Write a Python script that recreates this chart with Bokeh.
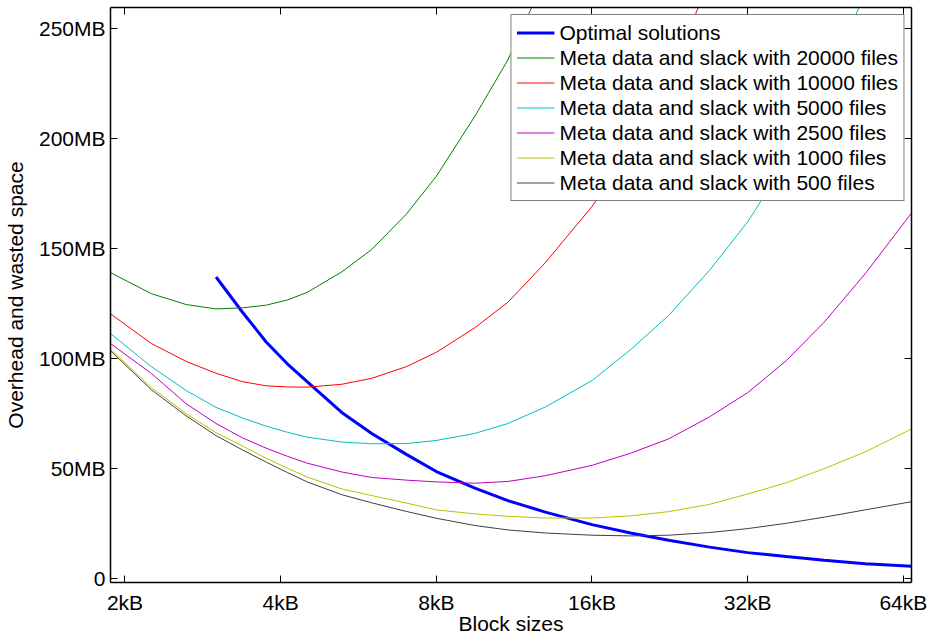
from bokeh.plotting import figure
from bokeh.models import Range1d, FixedTicker, LogAxis, LinearAxis
from bokeh.embed import file_html
from bokeh.resources import INLINE

nan = float("nan")

# Block sizes in kB
block_kb = [1.875, 2.25, 2.625, 3, 3.375, 3.75, 4.125, 4.5, 5.25, 6, 7, 8, 9.5, 11, 13,
            16, 19, 22.5, 27, 32, 38, 45, 54, 66.375]

# Overhead and wasted space in MB
optimal_mb = [nan, nan, nan, 137, 121, 107.5, 97.5, 89.5, 75.5, 66, 56.5, 48.7, 41.2, 35.5, 30.3,
              24.6, 20.8, 17.5, 14.4, 11.9, 10.1, 8.4, 6.9, 5.7]
files_20000 = [139, 129.4, 124.5, 122.5, 123, 124.2, 126.6, 130, 139.3, 149.5, 165.5, 182.7, 210, 235.5, 273,
               nan, nan, nan, nan, nan, nan, nan, nan, nan]
files_10000 = [120.3, 106.8, 98.7, 93.3, 89.5, 87.6, 87.1, 87, 88.3, 91, 96.3, 102.8, 114, 125.5, 143.5,
               169, 194, 226, 272, nan, nan, nan, nan, nan]
files_5000 = [111.3, 96.3, 85.5, 77.8, 73, 69.3, 66.5, 64.3, 62.1, 61.3, 61.4, 62.8, 66, 70.5, 78,
              90, 104, 119.5, 140, 162, 189.5, 222, 266, nan]
files_2500 = [106.8, 93.2, 79.5, 70.5, 64, 59.3, 55.6, 52.5, 48.5, 46, 44.8, 44, 43.4, 44.2, 46.8,
              51.5, 57, 63.5, 73.5, 84.5, 99, 116.5, 138.5, 166]
files_1000 = [104.2, 86.8, 75, 66.3, 60.3, 54.7, 50.2, 46.2, 40.8, 37.8, 34.4, 31.3, 29.5, 28.4, 27.6,
              27.6, 28.6, 30.5, 33.8, 38.5, 43.6, 50, 57.6, 68]
files_500 = [103.5, 85.8, 74, 65, 58.5, 53, 48.2, 44, 38.2, 34.5, 30.6, 27.5, 24.2, 22.2, 20.8,
             19.8, 19.5, 19.8, 21, 22.8, 25.2, 28, 31.3, 35]

x_ticks = [2, 4, 8, 16, 32, 64]
x_tick_labels = ["2kB", "4kB", "8kB", "16kB", "32kB", "64kB"]
y_ticks = [0, 50, 100, 150, 200, 250]
y_tick_labels = ["0", "50MB", "100MB", "150MB", "200MB", "250MB"]

series = [
    ("Optimal solutions", optimal_mb, "#0000ff", 3),
    ("Meta data and slack with 20000 files", files_20000, "#008000", 1),
    ("Meta data and slack with 10000 files", files_10000, "#ff0000", 1),
    ("Meta data and slack with 5000 files", files_5000, "#00bfbf", 1),
    ("Meta data and slack with 2500 files", files_2500, "#bf00bf", 1),
    ("Meta data and slack with 1000 files", files_1000, "#bfbf00", 1),
    ("Meta data and slack with 500 files", files_500, "#404040", 1),
]

FONT = "Liberation Sans"
FS = "21px"
Y0, Y1 = -1.66, 259.31

p = figure(width=927, height=637, x_axis_type="log",
           x_range=Range1d(block_kb[0], block_kb[-1]), y_range=Range1d(Y0, Y1),
           output_backend="svg", toolbar_location=None,
           min_border_left=110, min_border_right=16, min_border_top=7, min_border_bottom=50)
p.xgrid.visible = False
p.ygrid.visible = False
p.outline_line_color = None
p.background_fill_color = "white"
p.border_fill_color = "white"

for name, ys, color, lw in series:
    p.line(block_kb, ys, line_color=color, line_width=lw, legend_label=name)


def style_axis(ax, ticks, labels=None):
    ax.ticker = FixedTicker(ticks=ticks, minor_ticks=[])
    ax.major_tick_in = 7
    ax.major_tick_out = 0
    ax.minor_tick_line_color = None
    ax.axis_line_color = "black"
    ax.axis_line_width = 1.5
    ax.major_tick_line_color = "black"
    ax.major_tick_line_width = 1
    if labels is not None:
        ax.major_label_overrides = {t: l for t, l in zip(ticks, labels)}
        ax.major_label_text_font = FONT
        ax.major_label_text_font_size = FS
        ax.major_label_text_color = "black"
    else:
        # box side: ticks only, no labels drawn
        ax.major_label_text_color = None
        ax.major_label_text_font_size = "1px"
        ax.major_label_standoff = 0


xa = p.xaxis[0]
style_axis(xa, x_ticks, x_tick_labels)
xa.major_label_standoff = 8
xa.axis_label = "Block sizes"
xa.axis_label_text_font = FONT
xa.axis_label_text_font_size = FS
xa.axis_label_text_font_style = "normal"
xa.axis_label_text_color = "black"
xa.axis_label_standoff = -5

ya = p.yaxis[0]
style_axis(ya, y_ticks, y_tick_labels)
ya.major_label_standoff = 5
ya.axis_label = "Overhead and wasted space"
ya.axis_label_text_font = FONT
ya.axis_label_text_font_size = FS
ya.axis_label_text_font_style = "normal"
ya.axis_label_text_color = "black"
ya.axis_label_standoff = 9

top = LogAxis()
style_axis(top, x_ticks)
p.add_layout(top, "above")
right = LinearAxis()
style_axis(right, y_ticks)
p.add_layout(right, "right")

lg = p.legend[0]
lg.location = "top_right"
lg.margin = 7
lg.padding = 5
lg.spacing = 0
lg.glyph_width = 38
lg.glyph_height = 25
lg.label_height = 25
lg.label_standoff = 5
lg.label_text_font = FONT
lg.label_text_font_size = FS
lg.label_text_color = "black"
lg.border_line_color = "black"
lg.border_line_width = 1
lg.background_fill_color = "white"
lg.background_fill_alpha = 1

open("out.html", "w").write(file_html(p, INLINE))
